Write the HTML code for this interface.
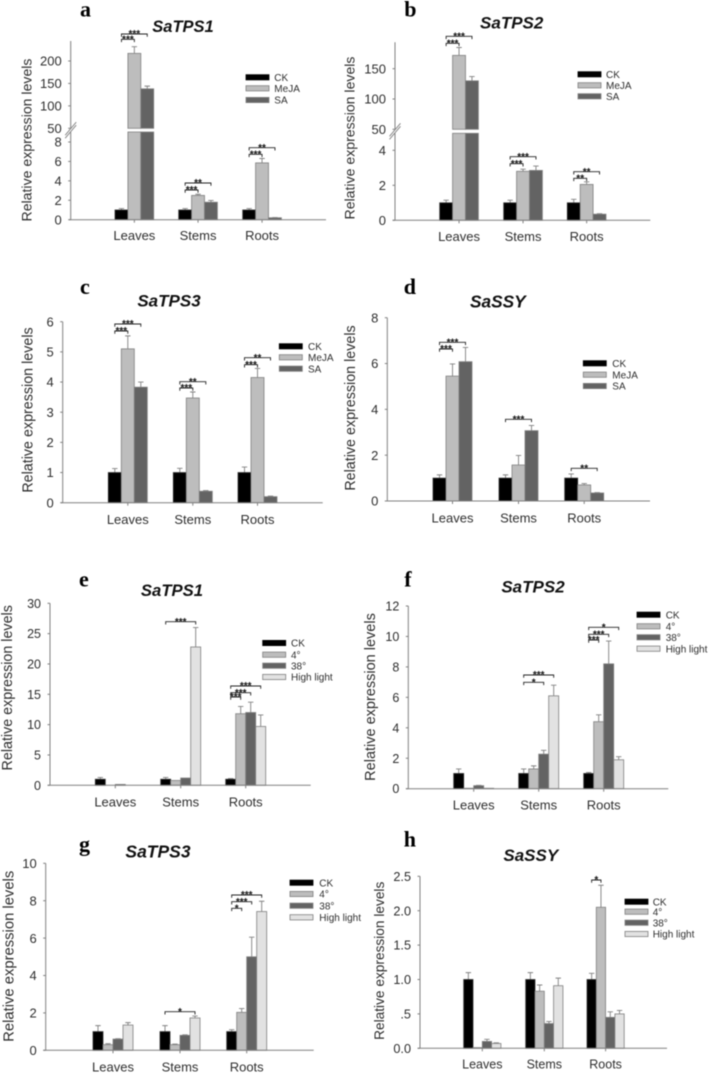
<!DOCTYPE html>
<html lang="en">
<head>
<meta charset="utf-8">
<title>Relative expression levels of SaTPS and SaSSY genes</title>
<style>
html,body{margin:0;padding:0;background:#fff;width:709px;height:1075px;overflow:hidden}
svg{display:block;filter:blur(0.45px)}
text{font-family:"Liberation Sans",Arial,sans-serif;fill:#2e2e2e}
.letter{font-family:"Liberation Serif","Times New Roman",serif;font-weight:bold;font-size:22px;fill:#000}
.title{font-weight:bold;font-style:italic;fill:#111;text-anchor:middle}
.star{font-weight:bold;font-size:10px;fill:#111;text-anchor:middle}
</style>
</head>
<body>
<svg id="figure" width="709" height="1075" viewBox="0 0 709 1075" xmlns="http://www.w3.org/2000/svg"></svg>
<script>
// ---------- data ----------
const categories = ['Leaves', 'Stems', 'Roots'];
const hormoneSeries = ['CK', 'MeJA', 'SA'];
const stressSeries = ['CK', '4°', '38°', 'High light'];

const aTicks = ['0', '2', '4', '6', '8'];
const aUpperTicks = ['50', '100', '150', '200'];
const aCK = [1, 1, 1];
const aCKErr = [0.15, 0.15, 0.15];
const aMeJA = [217, 2.5, 5.85];
const aMeJAErr = [15, 0.12, 0.45];
const aSA = [138, 1.8, 0.2];
const aSAErr = [6, 0.18, 0.02];

const bTicks = ['0', '2', '4'];
const bUpperTicks = ['50', '100', '150'];
const bCK = [1, 1, 1];
const bCKErr = [0.15, 0.15, 0.2];
const bMeJA = [172, 2.8, 2.05];
const bMeJAErr = [13, 0.12, 0.15];
const bSA = [130, 2.85, 0.35];
const bSAErr = [7, 0.25, 0.03];

const cTicks = ['0', '1', '2', '3', '4', '5', '6'];
const cCK = [1, 1, 1];
const cCKErr = [0.13, 0.14, 0.18];
const cMeJA = [5.1, 3.47, 4.15];
const cMeJAErr = [0.43, 0.2, 0.3];
const cSA = [3.83, 0.38, 0.2];
const cSAErr = [0.17, 0.02, 0.02];

const dTicks = ['0', '2', '4', '6', '8'];
const dCK = [1, 1, 1];
const dCKErr = [0.14, 0.14, 0.18];
const dMeJA = [5.45, 1.57, 0.7];
const dMeJAErr = [0.53, 0.42, 0.06];
const dSA = [6.08, 3.07, 0.35];
const dSAErr = [0.62, 0.23, 0.02];

const eTicks = ['0', '5', '10', '15', '20', '25', '30'];
const eCK = [1, 1, 1];
const eCKErr = [0.3, 0.3, 0.1];
const e4 = [0, 0.8, 11.8];
const e4Err = [0, 0, 1.2];
const e38 = [0.15, 1.2, 12];
const e38Err = [0, 0, 1.7];
const eHL = [0, 22.8, 9.7];
const eHLErr = [0, 3.2, 1.9];

const fTicks = ['0', '2', '4', '6', '8', '10', '12'];
const fCK = [1, 1, 1];
const fCKErr = [0.3, 0.3, 0.07];
const f4 = [0.03, 1.3, 4.4];
const f4Err = [0, 0.2, 0.45];
const f38 = [0.2, 2.27, 8.2];
const f38Err = [0.02, 0.25, 1.5];
const fHL = [0.03, 6.1, 1.9];
const fHLErr = [0, 0.7, 0.2];

const gTicks = ['0', '2', '4', '6', '8', '10'];
const gCK = [1, 1, 1];
const gCKErr = [0.32, 0.32, 0.1];
const g4 = [0.3, 0.3, 2.03];
const g4Err = [0.05, 0.03, 0.2];
const g38 = [0.6, 0.8, 5];
const g38Err = [0.02, 0.03, 1.05];
const gHL = [1.35, 1.73, 7.42];
const gHLErr = [0.13, 0.1, 0.55];

const hTicks = ['0.0', '.5', '1.0', '1.5', '2.0', '2.5'];
const hCK = [1, 1, 1];
const hCKErr = [0.1, 0.1, 0.09];
const h4 = [0.01, 0.83, 2.05];
const h4Err = [0, 0.09, 0.32];
const h38 = [0.1, 0.36, 0.45];
const h38Err = [0.03, 0.03, 0.08];
const hHL = [0.07, 0.91, 0.5];
const hHLErr = [0.01, 0.11, 0.05];

// ---------- styles ----------
const fills = { 'CK': '#000000', 'MeJA': '#bdbdbd', 'SA': '#636363', '4°': '#bdbdbd', '38°': '#636363', 'High light': '#e2e2e2' };
const AXIS = '#808080';

// ---------- panel layout ----------
const panels = [
 { id: 'a', title: 'SaTPS1', titleX: 183, titleY: 32, titleSize: 16.5, letterX: 80, letterY: 16.7,
   axisX: 70.7, left: 69, right: 326, y0: 219.7, top: 41, ticks: aTicks, tickRefPx: 142, tickRefVal: 8,
   upper: { ticks: aUpperTicks, lowerTop: 132, px: 128.3, val: 50, refPx: 61, refVal: 200 },
   labelX: 31.7, labelY: 140, labelSize: 14.1, tickSize: 13, catY: 240, catSize: 13,
   starts: [115, 178.7, 242.7], barW: 12.9, names: hormoneSeries,
   values: [aCK, aMeJA, aSA], errors: [aCKErr, aMeJAErr, aSAErr],
   legend: { x: 246, textX: 274.3, rows: [77.3, 88.3, 100] },
   brackets: [[0,0,2,34,'***'],[0,0,1,39.3,'***'],[1,0,2,183,'**'],[1,0,1,190,'***'],[2,0,2,147.7,'**'],[2,0,1,154.3,'***']] },
 { id: 'b', title: 'SaTPS2', titleX: 511.7, titleY: 28.7, titleSize: 17, letterX: 404.3, letterY: 16.7,
   axisX: 395, left: 392.7, right: 650.3, y0: 220.3, top: 42.3, ticks: bTicks, tickRefPx: 150.3, tickRefVal: 4,
   upper: { ticks: bUpperTicks, lowerTop: 133.3, px: 129.3, val: 50, refPx: 68.7, refVal: 150 },
   labelX: 354.5, labelY: 138, labelSize: 14.1, tickSize: 13, catY: 241, catSize: 13,
   starts: [439.7, 503.7, 567.3], barW: 12.9, names: hormoneSeries,
   values: [bCK, bMeJA, bSA], errors: [bCKErr, bMeJAErr, bSAErr],
   legend: { x: 578, textX: 606, rows: [74.3, 85.3, 96.3] },
   brackets: [[0,0,2,36.3,'***'],[0,0,1,43.3,'***'],[1,0,2,156.7,'***'],[1,0,1,163.7,'***'],[2,0,2,171.7,'**'],[2,0,1,178.3,'**']] },
 { id: 'c', title: 'SaTPS3', titleX: 169, titleY: 306.7, titleSize: 17, letterX: 80, letterY: 294,
   axisX: 62.7, left: 60.7, right: 322.7, y0: 502.7, top: 321.7, ticks: cTicks, tickRefPx: 321.7, tickRefVal: 6,
   labelX: 32.3, labelY: 410, labelSize: 14.3, tickSize: 13, catY: 524, catSize: 13,
   starts: [108.3, 173.3, 238], barW: 13, names: hormoneSeries,
   values: [cCK, cMeJA, cSA], errors: [cCKErr, cMeJAErr, cSAErr],
   legend: { x: 279.3, textX: 308, rows: [346.3, 357.3, 368.7] },
   brackets: [[0,0,2,324,'***'],[0,0,1,331,'***'],[1,0,2,381.7,'**'],[1,0,1,388,'***'],[2,0,2,357.7,'**'],[2,0,1,364.7,'***']] },
 { id: 'd', title: 'SaSSY', titleX: 497.8, titleY: 307.3, titleSize: 17.3, letterX: 403.7, letterY: 294,
   axisX: 387.3, left: 385.3, right: 650, y0: 501, top: 317.7, ticks: dTicks, tickRefPx: 317.7, tickRefVal: 8,
   labelX: 355, labelY: 408, labelSize: 14.3, tickSize: 13, catY: 522.7, catSize: 13,
   starts: [433, 499, 564.7], barW: 13, names: hormoneSeries,
   values: [dCK, dMeJA, dSA], errors: [dCKErr, dMeJAErr, dSAErr],
   legend: { x: 583.3, textX: 612.3, rows: [363.3, 374.7, 386] },
   brackets: [[0,0,2,342.3,'***'],[0,0,1,349,'***'],[1,0,2,419.3,'***'],[2,0,2,468.3,'**']] },
 { id: 'e', title: 'SaTPS1', titleX: 172, titleY: 596, titleSize: 16.7, letterX: 79, letterY: 586.7,
   axisX: 50, left: 47.7, right: 310.7, y0: 785.3, top: 603.3, ticks: eTicks, tickRefPx: 603.3, tickRefVal: 30,
   labelX: 12, labelY: 687.8, labelSize: 14.3, tickSize: 12.5, catY: 806.7, catSize: 13,
   starts: [95.3, 160.7, 225.7], barW: 10, names: stressSeries,
   values: [eCK, e4, e38, eHL], errors: [eCKErr, e4Err, e38Err, eHLErr],
   legend: { x: 262.7, textX: 291, rows: [643, 654.7, 665.7, 677] },
   brackets: [[1,0,3,621.7,'***'],[2,0,3,686,'***'],[2,0,2,692.7,'***'],[2,0,1,697,'***']] },
 { id: 'f', title: 'SaTPS2', titleX: 533, titleY: 592.3, titleSize: 17, letterX: 404.3, letterY: 586.7,
   axisX: 408.3, left: 406, right: 668.3, y0: 788.7, top: 606, ticks: fTicks, tickRefPx: 606, tickRefVal: 12,
   labelX: 375, labelY: 697, labelSize: 14.5, tickSize: 12.5, catY: 809.3, catSize: 13,
   starts: [453.7, 518.7, 583.7], barW: 10, names: stressSeries,
   values: [fCK, f4, f38, fHL], errors: [fCKErr, f4Err, f38Err, fHLErr],
   legend: { x: 637, textX: 665.7, rows: [614.7, 626.3, 637.3, 648.7] },
   brackets: [[1,0,3,675,'***'],[1,0,2,682.3,'*'],[2,0,3,627.3,'*'],[2,0,2,634.3,'***'],[2,0,1,640,'***']] },
 { id: 'g', title: 'SaTPS3', titleX: 158, titleY: 857.3, titleSize: 17.5, letterX: 79, letterY: 851.7,
   axisX: 45.7, left: 43.3, right: 313.7, y0: 1050.3, top: 863.3, ticks: gTicks, tickRefPx: 863.3, tickRefVal: 10,
   labelX: 13.3, labelY: 956.3, labelSize: 14.8, tickSize: 13, catY: 1071.7, catSize: 13,
   starts: [93, 160, 226.7], barW: 10, names: stressSeries,
   values: [gCK, g4, g38, gHL], errors: [gCKErr, g4Err, g38Err, gHLErr],
   legend: { x: 290, textX: 319.3, rows: [882.7, 894, 905.7, 917.3] },
   brackets: [[1,0,3,1011.7,'*'],[2,0,3,895,'***'],[2,0,2,901.7,'***'],[2,0,1,908.3,'*']] },
 { id: 'h', title: 'SaSSY', titleX: 530.8, titleY: 861, titleSize: 17, letterX: 403.7, letterY: 846.7,
   axisX: 420, left: 417.7, right: 667, y0: 1048.3, top: 876.3, ticks: hTicks, tickRefPx: 876.3, tickRefVal: 2.5,
   labelX: 384, labelY: 960.8, labelSize: 13.7, tickSize: 12.7, catY: 1068.3, catSize: 12.5,
   starts: [463.7, 525.7, 587], barW: 9.3, names: stressSeries,
   values: [hCK, h4, h38, hHL], errors: [hCKErr, h4Err, h38Err, hHLErr],
   legend: { x: 625, textX: 652.7, rows: [901.7, 911.7, 922.7, 934] },
   brackets: [[2,0,1,880,'*']] }
];

// ---------- drawing ----------
const svg = document.getElementById('figure');
const NS = 'http://www.w3.org/2000/svg';

function make(tag, parent, props, text) {
  const node = document.createElementNS(NS, tag);
  for (const k in props) node.setAttribute(k, props[k]);
  if (text !== undefined) node.textContent = text;
  parent.appendChild(node);
  return node;
}

function drawPanel(p) {
  const g = make('g', svg, {});
  
  

  // axis scales
  const lowerScale = (p.y0 - p.tickRefPx) / p.tickRefVal;
  const u = p.upper;
  const upperScale = u ? (u.px - u.refPx) / (u.refVal - u.val) : 0;
  const yLower = v => p.y0 - v * lowerScale;
  const yUpper = v => u.px - (v - u.val) * upperScale;
  const isUpper = v => !!u && v >= u.val;
  const y = v => isUpper(v) ? yUpper(v) : yLower(v);
  const groupCenter = i => p.starts[i] + p.barW * p.names.length / 2;
  const barX = (i, s) => p.starts[i] + p.barW * s;

  // panel letter and title
  const letter = make('text', g, { x: p.letterX, y: p.letterY, class: 'letter' }, p.id);
  
  
  const title = make('text', g, { x: p.titleX, y: p.titleY, class: 'title', 'font-size': p.titleSize }, p.title);
  
  

  // y axis title
  const yTitle = make('text', g, { transform: 'translate(' + p.labelX + ',' + p.labelY + ') rotate(-90)', 'text-anchor': 'middle', 'font-size': p.labelSize }, 'Relative expression levels');
  
  

  // bars and error bars
  p.names.forEach((name, s) => {
    categories.forEach((cat, i) => {
      const v = p.values[s][i];
      const err = p.errors[s][i];
      const x = barX(i, s);
      if (err > 0) {
        const cx = x + p.barW / 2;
        const topY = y(v + err);
        const errLine = make('path', g, { d: 'M' + cx + ' ' + y(v) + 'V' + topY + 'M' + (cx - 2.7) + ' ' + topY + 'H' + (cx + 2.7), stroke: AXIS, 'stroke-width': 0.9, fill: 'none' });
        
        
      }
      if (v <= 0) return;
      const style = { fill: fills[name], stroke: name === 'CK' ? '#333' : AXIS, 'stroke-width': 0.8, width: p.barW };
      if (isUpper(v)) {
        const low = make('rect', g, Object.assign({ x: x, y: u.lowerTop, height: p.y0 - u.lowerTop }, style));
        
        
        const up = make('rect', g, Object.assign({ x: x, y: yUpper(v), height: u.px - yUpper(v) }, style));
        
        
      } else {
        const bar = make('rect', g, Object.assign({ x: x, y: yLower(v), height: p.y0 - yLower(v) }, style));
        
        
      }
    });
  });

  // axes
  const yAxisPath = u
    ? 'M' + p.axisX + ' ' + p.y0 + 'V' + u.lowerTop + 'M' + p.axisX + ' ' + u.px + 'V' + p.top
    : 'M' + p.axisX + ' ' + p.y0 + 'V' + p.top;
  const yAxis = make('path', g, { d: yAxisPath, stroke: AXIS, 'stroke-width': 1, fill: 'none' });
  
  
  const xAxis = make('path', g, { d: 'M' + p.left + ' ' + p.y0 + 'H' + p.right, stroke: AXIS, 'stroke-width': 1, fill: 'none' });
  
  

  if (u) {
    const mid = (u.px + u.lowerTop) / 2;
    const ax = p.axisX;
    const slash = make('path', g, { d: 'M' + (ax - 5.5) + ' ' + (mid + 5) + 'L' + (ax + 5.5) + ' ' + (mid - 8) + 'M' + (ax - 5.5) + ' ' + (mid + 8) + 'L' + (ax + 5.5) + ' ' + (mid - 5), stroke: AXIS, 'stroke-width': 0.9, fill: 'none' });
    
    
  }

  // y ticks
  const drawTick = (label, yPos) => {
    const tick = make('path', g, { d: 'M' + (p.axisX - 2.5) + ' ' + yPos + 'H' + p.axisX, stroke: AXIS, 'stroke-width': 1 });
    
    
    const t = make('text', g, { x: p.axisX - 9, y: yPos + p.tickSize * 0.36, 'text-anchor': 'end', 'font-size': p.tickSize }, label);
    
    
  };
  p.ticks.forEach(label => drawTick(label, yLower(parseFloat(label))));
  if (u) u.ticks.forEach(label => drawTick(label, yUpper(parseFloat(label))));

  // categories
  categories.forEach((cat, i) => {
    const cx = groupCenter(i);
    const tick = make('path', g, { d: 'M' + cx + ' ' + p.y0 + 'v3', stroke: AXIS, 'stroke-width': 1 });
    
    
    const t = make('text', g, { x: cx, y: p.catY, 'text-anchor': 'middle', 'font-size': p.catSize }, cat);
    
    
  });

  // legend
  p.names.forEach((name, s) => {
    const row = p.legend.rows[s];
    const sw = make('rect', g, { x: p.legend.x, y: row - 2.6, width: 23, height: 5.2, fill: fills[name], stroke: name === 'CK' ? '#000' : AXIS, 'stroke-width': 0.8 });
    
    
    const t = make('text', g, { x: p.legend.textX, y: row + 3.6, 'font-size': 10 }, name);
    
    
  });

  // significance brackets
  p.brackets.forEach(b => {
    const x1 = barX(b[0], b[1]) + p.barW / 2;
    const x2 = barX(b[0], b[2]) + p.barW / 2;
    const yb = b[3];
    const line = make('path', g, { d: 'M' + x1 + ' ' + (yb + 2.8) + 'V' + yb + 'H' + x2 + 'V' + (yb + 2.8), stroke: '#222', 'stroke-width': 0.9, fill: 'none' });
    
    
    const t = make('text', g, { x: (x1 + x2) / 2, y: yb + 3.2, class: 'star' }, b[4]);
    
    
  });
}

panels.forEach(drawPanel);
</script>
</body>
</html>
